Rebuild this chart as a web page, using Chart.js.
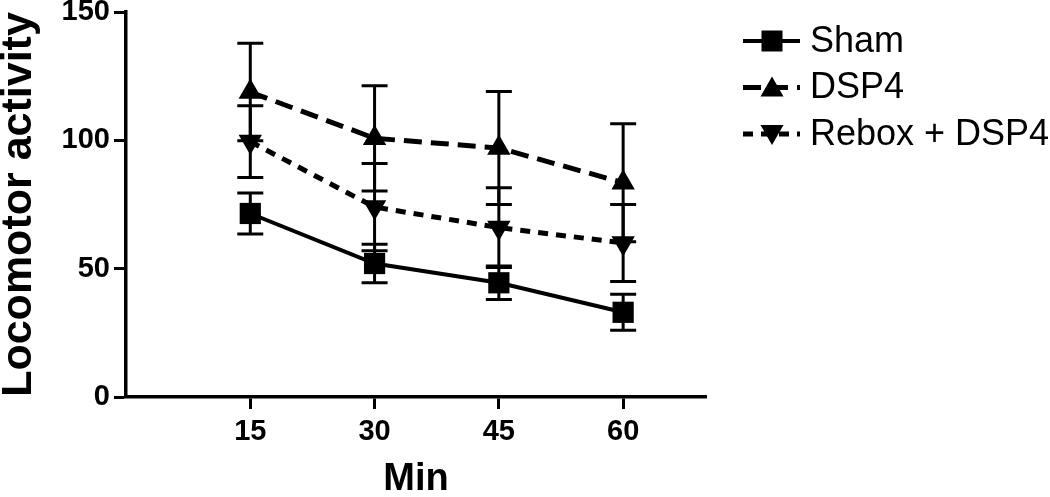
<!DOCTYPE html>
<html>
<head>
<meta charset="utf-8">
<title>Locomotor activity</title>
<script src="https://cdn.jsdelivr.net/npm/chart.js@4.4.1/dist/chart.umd.min.js"></script>
<style>
  html, body { margin: 0; padding: 0; background: #fff; }
  #wrap { width: 1050px; height: 497px; }
</style>
</head>
<body>
<div id="wrap"><canvas id="locomotor-chart" width="1050" height="497"></canvas></div>
<script>
// data (mean +/- SEM)
const minutes = [15, 30, 45, 60];
const xTicks = [15, 30, 45, 60];
const yTicks = [0, 50, 100, 150];
const seriesNames = ["Sham", "DSP4", "Rebox + DSP4"];
const shamMean = [71.5, 52, 44.5, 33];
const shamErr = [8, 7.5, 6.5, 7];
const dsp4Mean = [118.8, 100.8, 97, 83.5];
const dsp4Err = [19, 20.5, 22, 23];
const reboxMean = [99.5, 74, 66, 60];
const reboxErr = [14, 17, 15.5, 15];

const FONT = "'Liberation Sans', Arial, sans-serif";
const INK = "#000";

function toPoints(values) {
  return minutes.map((m, i) => ({ x: m, y: values[i] }));
}

// draws the marker shapes used in the legend (same size as plot markers)
function drawMarker(ctx, style, x, y) {
  ctx.beginPath();
  if (style === "rect") {
    ctx.rect(x - 10.5, y - 10.5, 21, 21);
  } else if (style === "up") {
    ctx.moveTo(x, y - 11);
    ctx.lineTo(x + 11.5, y + 9);
    ctx.lineTo(x - 11.5, y + 9);
  } else {
    ctx.moveTo(x, y + 11);
    ctx.lineTo(x + 11.5, y - 9);
    ctx.lineTo(x - 11.5, y - 9);
  }
  ctx.closePath();
  ctx.fill();
}

const errorBarPlugin = {
  id: "errorBars",
  beforeDatasetsDraw(chart) {
    const ctx = chart.ctx;
    const yScale = chart.scales.y;
    ctx.save();
    ctx.strokeStyle = INK;
    ctx.lineWidth = 3;
    chart.data.datasets.forEach((ds, di) => {
      const meta = chart.getDatasetMeta(di);
      meta.data.forEach((pt, i) => {
        const mean = ds.data[i].y;
        const err = ds.errors[i];
        const top = yScale.getPixelForValue(mean + err);
        const bot = yScale.getPixelForValue(mean - err);
        ctx.beginPath();
        ctx.moveTo(pt.x, top);
        ctx.lineTo(pt.x, bot);
        ctx.moveTo(pt.x - 13, top);
        ctx.lineTo(pt.x + 13, top);
        ctx.moveTo(pt.x - 13, bot);
        ctx.lineTo(pt.x + 13, bot);
        ctx.stroke();
      });
    });
    ctx.restore();
  },
};

const legendPlugin = {
  id: "sideLegend",
  afterDraw(chart) {
    const ctx = chart.ctx;
    const markers = ["rect", "up", "down"];
    ctx.save();
    chart.data.datasets.forEach((ds, i) => {
      const y = 41 + i * 46.5;
      ctx.strokeStyle = INK;
      ctx.fillStyle = INK;
      ctx.lineWidth = ds.borderWidth;
      ctx.setLineDash(ds.borderDash || []);
      ctx.beginPath();
      ctx.moveTo(743, y);
      ctx.lineTo(800, y);
      ctx.stroke();
      ctx.setLineDash([]);
      drawMarker(ctx, markers[i], 772, y);
      ctx.font = "36px " + FONT;
      ctx.textBaseline = "middle";
      ctx.textAlign = "left";
      ctx.fillText(seriesNames[i], 810, y + 1);
    });
    ctx.restore();
  },
};

function lineSeries(label, values, errors, extra) {
  return Object.assign(
    {
      label,
      data: toPoints(values),
      errors,
      borderColor: INK,
      backgroundColor: INK,
      pointBackgroundColor: INK,
      pointBorderWidth: 0,
      pointHoverRadius: 0,
      tension: 0,
      clip: false,
    },
    extra
  );
}

function initLocomotorChart() {
  const canvas = document.getElementById("locomotor-chart");
  if (!canvas || typeof Chart === "undefined") return;

  window.locomotorChart = new Chart(canvas.getContext("2d"), {
    type: "line",
    data: {
      datasets: [
        lineSeries(seriesNames[0], shamMean, shamErr, {
          borderWidth: 4,
          pointStyle: "rect",
          pointRadius: 15,
        }),
        lineSeries(seriesNames[1], dsp4Mean, dsp4Err, {
          borderWidth: 5,
          borderDash: [18, 9],
          pointStyle: "triangle",
          pointRadius: 13.5,
        }),
        lineSeries(seriesNames[2], reboxMean, reboxErr, {
          borderWidth: 5,
          borderDash: [10, 8],
          pointStyle: "triangle",
          pointRotation: 180,
          pointRadius: 13.5,
        }),
      ],
    },
    options: {
      responsive: false,
      animation: false,
      layout: {
        autoPadding: false,
        padding: { top: 12, right: 344, left: 0, bottom: 0 },
      },
      plugins: {
        legend: { display: false },
        tooltip: { enabled: false },
      },
      scales: {
        x: {
          type: "linear",
          min: 0,
          max: 70,
          afterBuildTicks: (s) => {
            s.ticks = xTicks.map((v) => ({ value: v }));
          },
          afterFit: (s) => {
            s.height = 100;
            s.paddingLeft = 0;
            s.paddingRight = 0;
          },
          grid: { drawOnChartArea: false, tickLength: 12, tickWidth: 3, tickColor: INK },
          border: { color: INK, width: 3.5 },
          ticks: {
            color: INK,
            padding: 6,
            maxRotation: 0,
            font: { family: FONT, size: 29, weight: "bold" },
          },
          title: {
            display: true,
            text: "Min",
            color: INK,
            padding: 0,
            font: { family: FONT, size: 38, weight: "bold", lineHeight: 0.9 },
          },
        },
        y: {
          min: 0,
          max: 150,
          afterBuildTicks: (s) => {
            s.ticks = yTicks.map((v) => ({ value: v }));
          },
          afterFit: (s) => {
            s.width = 126;
            s.paddingTop = 0;
            s.paddingBottom = 0;
          },
          grid: { drawOnChartArea: false, tickLength: 12, tickWidth: 3, tickColor: INK },
          border: { color: INK, width: 3.5 },
          ticks: {
            color: INK,
            padding: 4,
            font: { family: FONT, size: 29, weight: "bold" },
          },
          title: {
            display: true,
            text: "Locomotor activity",
            color: INK,
            padding: 0,
            font: { family: FONT, size: 43, weight: "bold", lineHeight: 0.9 },
          },
        },
      },
    },
    plugins: [errorBarPlugin, legendPlugin],
  });
}

initLocomotorChart();
</script>
</body>
</html>
